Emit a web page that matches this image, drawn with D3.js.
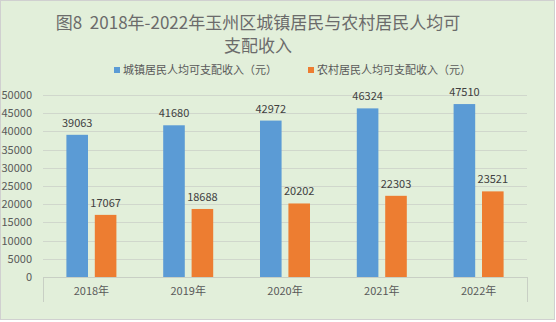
<!DOCTYPE html>
<html><head><meta charset="utf-8">
<script src="https://cdn.jsdelivr.net/npm/d3@7"></script>
<style>html,body{margin:0;padding:0;background:#fff;}svg{display:block;}</style>
</head><body>
<svg id="c" width="556" height="322"></svg>
<script>
const categories = ["2018年","2019年","2020年","2021年","2022年"];
const urbanValues = [39063, 41680, 42972, 46324, 47510];
const ruralValues = [17067, 18688, 20202, 22303, 23521];
const seriesNames = ["城镇居民人均可支配收入（元）","农村居民人均可支配收入（元）"];
const seriesColors = ["#5b9bd5","#ed7d31"];
const yTicks = [0,5000,10000,15000,20000,25000,30000,35000,40000,45000,50000];
const titleLines = ["图8  2018年-2022年玉州区城镇居民与农村居民人均可","支配收入"];

const font = "'Noto Sans CJK SC','Noto Sans',sans-serif";
const svg = d3.select("#c");
svg.append("rect").attr("x",0.5).attr("y",0.5).attr("width",554).attr("height",319)
  .attr("fill","#e2efda").attr("stroke","#d0d0d0");

const L=43,R=527,T=95,B=277;
const x = d3.scaleBand().domain(categories).range([L,R]).paddingInner(0).paddingOuter(0);
const y = d3.scaleLinear().domain([0,50000]).range([B,T]);

// gridlines
svg.append("g").selectAll("line").data(yTicks.slice(1)).join("line")
  .attr("x1",L).attr("x2",R).attr("y1",d=>Math.round(y(d))+0.5).attr("y2",d=>Math.round(y(d))+0.5)
  .attr("stroke","#d0d7cc").attr("stroke-width",1);

// y axis labels
const yAxis = d3.axisLeft(y).tickValues(yTicks).tickFormat(d3.format("d")).tickSize(0).tickPadding(11);
const ya = svg.append("g").attr("transform",`translate(${L},0)`).call(yAxis);
ya.select(".domain").remove();
ya.selectAll("text").attr("font-family",font).attr("font-size",11).attr("fill","#595959");

// x axis
const xAxis = d3.axisBottom(x).tickSize(0).tickPadding(10);
const xa = svg.append("g").attr("transform",`translate(0,${B})`).call(xAxis);
xa.select(".domain").remove();
xa.selectAll("text").attr("font-family",font).attr("font-size",11).attr("fill","#595959");
svg.append("line").attr("x1",L).attr("x2",R).attr("y1",B+0.5).attr("y2",B+0.5).attr("stroke","#c8cfc4");
[L,R].forEach(v=>svg.append("line").attr("x1",v+0.5).attr("x2",v+0.5).attr("y1",B).attr("y2",302).attr("stroke","#c8cfc4"));

// bars
const inner = d3.scaleBand().domain([0,1]).range([-25,25]).paddingInner(0.24);
const seriesData = [urbanValues, ruralValues];
seriesData.forEach((vals,si)=>{
  const g = svg.append("g");
  g.selectAll("rect").data(vals).join("rect")
    .attr("x",(d,i)=>x(categories[i])+x.bandwidth()/2+inner(si))
    .attr("width",inner.bandwidth())
    .attr("y",d=>y(d)).attr("height",d=>B-y(d))
    .attr("fill",seriesColors[si]);
  g.selectAll("text").data(vals).join("text")
    .attr("x",(d,i)=>x(categories[i])+x.bandwidth()/2+inner(si)+inner.bandwidth()/2)
    .attr("y",d=>y(d)-8)
    .attr("text-anchor","middle").attr("font-family",font).attr("font-size",11).attr("fill","#404040")
    .text(d=>d);
});

// title
const tt = svg.append("text").attr("text-anchor","middle").attr("font-family",font)
  .attr("font-size",17).attr("fill","#6b6b6b").style("white-space","pre");
titleLines.forEach((t,i)=>tt.append("tspan").attr("x",258).attr("y",29+i*23).text(t));

// legend
const legX = [114, 308];
seriesNames.forEach((n,i)=>{
  svg.append("rect").attr("x",legX[i]).attr("y",67).attr("width",6).attr("height",6).attr("fill",seriesColors[i]);
  svg.append("text").attr("x",legX[i]+9).attr("y",74).attr("font-family",font).attr("font-size",11)
    .attr("fill","#595959").text(n);
});
</script>
</body></html>
